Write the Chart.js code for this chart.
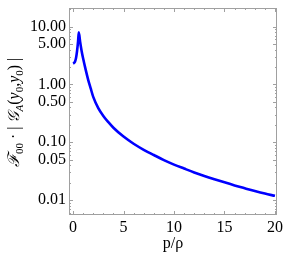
<!DOCTYPE html>
<html lang="en">
<head>
  <meta charset="UTF-8" />
  <title>F00 |G_A(y0,y0)| vs p/rho</title>
  <script src="https://cdn.jsdelivr.net/npm/chart.js"></script>
  <style>
    html, body { margin: 0; padding: 0; background: #fff; }
    #wrap { width: 284px; height: 263px; }
  </style>
</head>
<body>
  <div id="wrap"><canvas id="chart" width="284" height="263"></canvas></div>

  <script>
    // p/rho values and the curve
    const pValues = [0, 0.1, 0.2, 0.3, 0.4, 0.5, 0.57, 0.7, 0.85, 1.0, 1.25, 1.5, 1.75, 2.0,
      2.5, 3.0, 3.5, 4.0, 5.0, 6.0, 7.0, 8.0, 9.0, 10, 11, 12, 13, 14, 15, 16, 17, 18, 19, 20];
    const gValues = [2.3, 2.35, 2.5, 2.9, 3.8, 5.6, 8.0, 5.5, 3.8, 2.8, 1.8, 1.2, 0.85, 0.61,
      0.39, 0.285, 0.222, 0.178, 0.125, 0.094, 0.074, 0.060, 0.049, 0.041, 0.035, 0.030, 0.0261,
      0.0229, 0.0202, 0.0179, 0.0160, 0.0143, 0.0129, 0.0118];

    const xTicks = [0, 5, 10, 15, 20];
    const yTicks = [0.01, 0.05, 0.1, 0.5, 1, 5, 10];

    const serif = '"Liberation Serif", "DejaVu Serif", serif';
    const frameColor = '#a0a0a0';

    // frame with inward ticks on all 4 sides + rotated y title
    const framePlugin = {
      id: 'frame',
      afterDraw(chart) {
        const ctx = chart.ctx;
        const a = chart.chartArea;
        const xs = chart.scales.x, ys = chart.scales.y;
        ctx.save();
        ctx.strokeStyle = frameColor;
        ctx.lineWidth = 1;
        ctx.strokeRect(a.left + 0.5, a.top + 0.5, a.right - a.left - 1, a.bottom - a.top - 1);

        ctx.beginPath();
        for (let v = 0; v <= 20; v++) {
          const len = v % 5 === 0 ? 4 : 2;
          const px = Math.round(xs.getPixelForValue(v)) + 0.5;
          ctx.moveTo(px, a.bottom); ctx.lineTo(px, a.bottom - len);
          ctx.moveTo(px, a.top); ctx.lineTo(px, a.top + len);
        }
        for (let d = -3; d <= 1; d++) {
          for (let m = 1; m <= 9; m++) {
            const v = m * Math.pow(10, d);
            if (v < ys.min || v > ys.max) continue;
            const major = yTicks.some(t => Math.abs(t - v) < 1e-9);
            const len = major ? 4 : 2;
            const py = Math.round(ys.getPixelForValue(v)) + 0.5;
            ctx.moveTo(a.left, py); ctx.lineTo(a.left + len, py);
            ctx.moveTo(a.right, py); ctx.lineTo(a.right - len, py);
          }
        }
        ctx.stroke();

        // y axis title: F00 · | G_A(y0,y0) |
        const fs = 16, ss = 11;
        const parts = [
          ['ℱ', 'italic ' + fs + 'px ' + serif, 0],
          ['00', ss + 'px ' + serif, 4],
          [' · | ', fs + 'px ' + serif, 0],
          ['𝒢', 'italic ' + fs + 'px ' + serif, 0],
          ['A', 'italic ' + ss + 'px ' + serif, 4],
          ['(', fs + 'px ' + serif, 0],
          ['y', 'italic ' + fs + 'px ' + serif, 0],
          ['0', ss + 'px ' + serif, 4],
          [',', fs + 'px ' + serif, 0],
          ['y', 'italic ' + fs + 'px ' + serif, 0],
          ['0', ss + 'px ' + serif, 4],
          [')', fs + 'px ' + serif, 0],
          [' |', fs + 'px ' + serif, 0]
        ];
        let total = 0, inkStart = 0, inkEnd = 0;
        parts.forEach((p, i) => {
          ctx.font = p[1];
          const m = ctx.measureText(p[0]);
          if (i === 0) inkStart = -m.actualBoundingBoxLeft;
          if (i === parts.length - 1) inkEnd = total + m.actualBoundingBoxRight;
          total += m.width;
        });
        ctx.translate(19, 113);
        ctx.rotate(-Math.PI / 2);
        ctx.fillStyle = '#000';
        ctx.textBaseline = 'alphabetic';
        let x = -(inkStart + inkEnd) / 2;
        parts.forEach(p => {
          ctx.font = p[1];
          ctx.fillText(p[0], x, p[2]);
          x += ctx.measureText(p[0]).width;
        });
        ctx.restore();
      }
    };

    new Chart(document.getElementById('chart'), {
      type: 'line',
      data: {
        datasets: [{
          data: pValues.map((p, i) => ({ x: p, y: gValues[i] })),
          borderColor: '#0000ff',
          borderWidth: 2.6,
          pointRadius: 0,
          fill: false,
          cubicInterpolationMode: 'monotone'
        }]
      },
      options: {
        responsive: false,
        animation: false,
        layout: { padding: { top: 8, right: 7, bottom: 0, left: 0 } },
        plugins: { legend: { display: false }, tooltip: { enabled: false } },
        scales: {
          x: {
            type: 'linear',
            min: -0.4,
            max: 20.2,
            grid: { display: false, drawTicks: false },
            border: { display: false },
            afterBuildTicks: s => { s.ticks = xTicks.map(v => ({ value: v })); },
            afterFit: s => { s.height = 48; s.paddingLeft = 0; s.paddingRight = 0; },
            ticks: { color: '#000', font: { family: serif, size: 16 }, padding: 3, maxRotation: 0 },
            title: {
              display: true,
              text: 'p/ρ',
              color: '#000',
              font: { family: serif, size: 16 },
              padding: { top: 0, bottom: 10 }
            }
          },
          y: {
            type: 'logarithmic',
            min: 0.0055,
            max: 21,
            grid: { display: false, drawTicks: false },
            border: { display: false },
            afterBuildTicks: s => { s.ticks = yTicks.map(v => ({ value: v })); },
            afterFit: s => { s.width = 69; s.paddingTop = 0; s.paddingBottom = 0; },
            ticks: {
              color: '#000',
              font: { family: serif, size: 16 },
              padding: 3,
              callback: v => Number(v).toFixed(2)
            }
          }
        }
      },
      plugins: [framePlugin]
    });
  </script>
</body>
</html>
